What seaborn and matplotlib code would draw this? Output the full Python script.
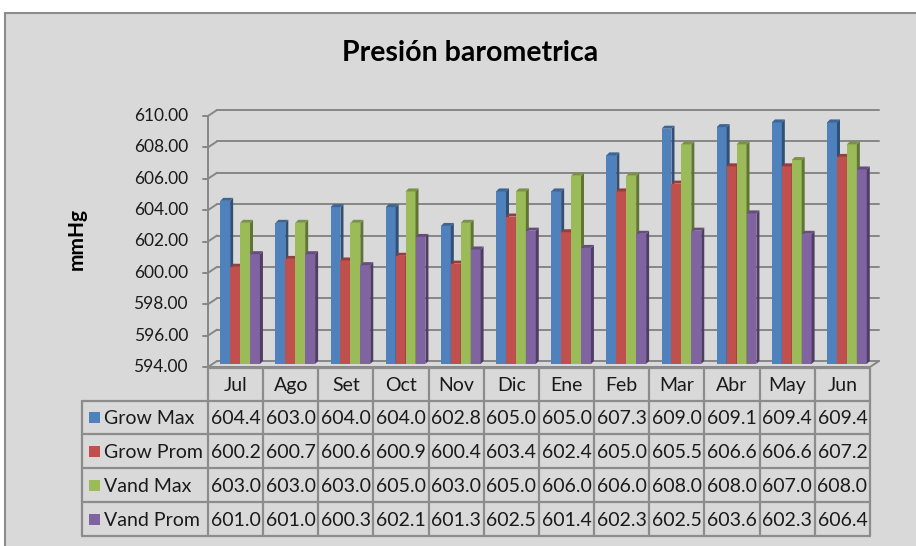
import numpy as np
import pandas as pd
import matplotlib
matplotlib.use("Agg")
import matplotlib.pyplot as plt
import matplotlib.transforms as mtransforms
from matplotlib.patches import Polygon, Rectangle
from matplotlib.lines import Line2D
import seaborn as sns

# ---- data -------------------------------------------------------------
meses = ["Jul", "Ago", "Set", "Oct", "Nov", "Dic", "Ene", "Feb", "Mar", "Abr", "May", "Jun"]
grow_max = [604.4, 603.0, 604.0, 604.0, 602.8, 605.0, 605.0, 607.3, 609.0, 609.1, 609.4, 609.4]
grow_prom = [600.2, 600.7, 600.6, 600.9, 600.4, 603.4, 602.4, 605.0, 605.5, 606.6, 606.6, 607.2]
vand_max = [603.0, 603.0, 603.0, 605.0, 603.0, 605.0, 606.0, 606.0, 608.0, 608.0, 607.0, 608.0]
vand_prom = [601.0, 601.0, 600.3, 602.1, 601.3, 602.5, 601.4, 602.3, 602.5, 603.6, 602.3, 606.4]
series = ["Grow Max", "Grow Prom", "Vand Max", "Vand Prom"]
colores = ["#4F81BD", "#C0504D", "#9BBB59", "#8064A2"]
y_ticks = [594, 596, 598, 600, 602, 604, 606, 608, 610]

valores = [grow_max, grow_prom, vand_max, vand_prom]
df = pd.DataFrame(
    [(m, s, v) for s, vals in zip(series, valores) for m, v in zip(meses, vals)],
    columns=["Mes", "Serie", "mmHg"],
)

# ---- figure -----------------------------------------------------------
W, H, DPI = 916, 546, 100
sns.set_theme(style="white")
plt.rcParams["font.family"] = ["Lato", "DejaVu Sans"]
fig = plt.figure(figsize=(W / DPI, H / DPI), dpi=DPI, facecolor="white")

# pixel coordinates measured from the top-left corner
PX = mtransforms.Affine2D().scale(1, -1).translate(0, H)
ID = mtransforms.IdentityTransform()
GRID = "#868686"
TXT = "#1a1a1a"

fig.add_artist(Rectangle((5, 13), W + 40, H + 40, transform=PX,
                         facecolor="#D9D9D9", edgecolor="#8C8C8C", lw=1.5, zorder=0))

# half of the 3-D depth of the plot box (pixels)
DX, DY = 4.5, 3.0
FRONT_L, FRONT_R = 208, 870
Y_TOP, Y_BOT = 116, 367

ax = fig.add_axes([(FRONT_L + DX) / W, (H - (Y_BOT - DY)) / H,
                   (FRONT_R - FRONT_L) / W, (Y_BOT - Y_TOP) / H])
ax.set_facecolor("none")

sns.barplot(data=df, x="Mes", y="mmHg", hue="Serie", order=meses,
            hue_order=series, palette=colores, width=0.72, saturation=1,
            edgecolor="none", linewidth=0, errorbar=None, legend=False, ax=ax)
ax.set_ylim(y_ticks[0], y_ticks[-1])
ax.set_xlim(-0.5, len(meses) - 0.5)
ax.axis("off")

tD = ax.transData
ymin = y_ticks[0]


def front(x, y):
    px, py = tD.transform((x, y))
    return px - DX, py - DY


def back(x, y):
    px, py = tD.transform((x, y))
    return px + DX, py + DY


# ---- walls, gridlines and floor ----------------------------------------
x_lo, x_hi = ax.get_xlim()
lw = 1.4
for v in y_ticks:
    fl = front(x_lo, v)
    bl = back(x_lo, v)
    br = back(x_hi, v)
    ax.add_line(Line2D([bl[0], br[0]], [bl[1], br[1]], transform=ID,
                       color=GRID, lw=lw, zorder=0.5, clip_on=False))
    ax.add_line(Line2D([fl[0], bl[0]], [fl[1], bl[1]], transform=ID,
                       color=GRID, lw=lw, zorder=0.5, clip_on=False))
    ax.add_line(Line2D([fl[0] - 5, fl[0]], [fl[1], fl[1]], transform=ID,
                       color=GRID, lw=lw, zorder=0.5, clip_on=False))
    fig.text(fl[0] - 20, fl[1], f"{v:.2f}", transform=ID, ha="right",
             va="center", fontsize=12.5, color=TXT)

f_top = front(x_lo, y_ticks[-1])
f_bot = front(x_lo, ymin)
ax.add_line(Line2D([f_bot[0], f_top[0]], [f_bot[1], f_top[1]], transform=ID,
                   color=GRID, lw=lw, zorder=0.5, clip_on=False))
fr = front(x_hi, ymin)
brr = back(x_hi, ymin)
ax.add_line(Line2D([f_bot[0], fr[0], brr[0]], [f_bot[1], fr[1], brr[1]],
                   transform=ID, color=GRID, lw=lw, zorder=0.6, clip_on=False))

# ---- 3-D faces on each column ------------------------------------------
def shade(c, f):
    r, g, b = matplotlib.colors.to_rgb(c)
    return (r * f, g * f, b * f)


d = 3.0
for i, cont in enumerate(ax.containers):
    for bar in cont:
        x0 = bar.get_x()
        w = bar.get_width()
        top = bar.get_y() + bar.get_height()
        xl, yb = tD.transform((x0, ymin))
        xr, yt = tD.transform((x0 + w, top))
        bar.set_zorder(3 + i)
        side = Polygon([(xr, yb), (xr + d, yb + d), (xr + d, yt + d), (xr, yt)],
                       closed=True, transform=ID, facecolor=shade(colores[i], 0.62),
                       edgecolor="none", zorder=3 + i, clip_on=False)
        cap = Polygon([(xl, yt), (xr, yt), (xr + d, yt + d), (xl + d, yt + d)],
                      closed=True, transform=ID, facecolor=shade(colores[i], 0.78),
                      edgecolor="none", zorder=3 + i, clip_on=False)
        ax.add_patch(side)
        ax.add_patch(cap)

# ---- titles -------------------------------------------------------------
fig.text(470, 53, "Presión barometrica", transform=PX, ha="center", va="center",
         fontsize=20.5, fontweight="bold", color="black")
fig.text(77, 239, "mmHg", transform=PX, ha="center", va="center", rotation=90,
         fontsize=15, fontweight="bold", color="black")

# ---- data table ---------------------------------------------------------
row_edges = [368, 401, 434, 468, 502, 536]
LABEL_L = 82
col_edges = [front(k - 0.5, ymin)[0] for k in range(len(meses) + 1)]
y_edges = [H - r for r in row_edges]
TL = "#8C8C8C"
tlw = 1.6
FS = 14

# horizontal lines
for j, ye in enumerate(y_edges):
    x_start = col_edges[0] if j == 0 else LABEL_L
    fig.add_artist(Line2D([x_start, col_edges[-1]], [ye, ye], transform=ID,
                          color=TL, lw=tlw, zorder=5))
# vertical lines
for k, xe in enumerate(col_edges):
    fig.add_artist(Line2D([xe, xe], [y_edges[0], y_edges[-1]], transform=ID,
                          color=TL, lw=tlw, zorder=5))
fig.add_artist(Line2D([LABEL_L, LABEL_L], [y_edges[1], y_edges[-1]], transform=ID,
                      color=TL, lw=tlw, zorder=5))

# month headers
for k, m in enumerate(meses):
    xc = (col_edges[k] + col_edges[k + 1]) / 2
    yc = (y_edges[0] + y_edges[1]) / 2 - 1
    fig.text(xc, yc, m, transform=ID, ha="center", va="center",
             fontsize=FS, color=TXT)

# series rows
for r, (s, vals) in enumerate(zip(series, valores)):
    yc = (y_edges[r + 1] + y_edges[r + 2]) / 2
    fig.add_artist(Rectangle((89, yc - 5.5), 11, 11, transform=ID,
                             facecolor=colores[r], edgecolor="none", zorder=6))
    fig.text(104, yc - 1, s, transform=ID, ha="left", va="center",
             fontsize=FS, color=TXT)
    for k, v in enumerate(vals):
        xc = (col_edges[k] + col_edges[k + 1]) / 2
        fig.text(xc, yc - 1, f"{v:.1f}", transform=ID, ha="center",
                 va="center", fontsize=FS, color=TXT)

fig.savefig("out.png", dpi=DPI, facecolor=fig.get_facecolor())
